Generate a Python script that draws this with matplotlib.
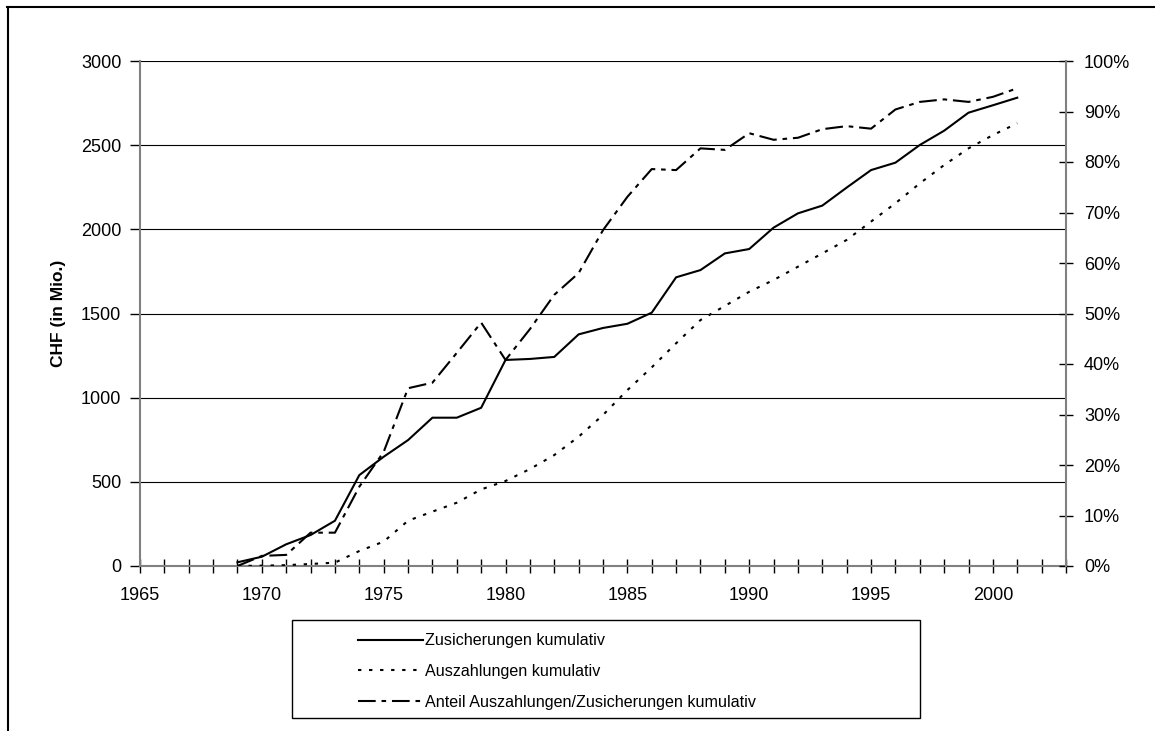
import matplotlib
matplotlib.use("Agg")
import matplotlib.pyplot as plt
from matplotlib.lines import Line2D
from matplotlib.patches import Rectangle
from matplotlib.ticker import MultipleLocator, FixedLocator

plt.rcParams['font.family'] = ['Liberation Sans', 'DejaVu Sans']

years = list(range(1969, 2002))
zusicherungen = [22, 55, 129, 184, 269, 540, 649, 748, 881, 881, 940, 1224, 1230, 1242,
                 1376, 1414, 1439, 1505, 1715, 1758, 1857, 1883, 2010, 2095, 2141, 2248,
                 2352, 2396, 2501, 2586, 2693, 2737, 2782]
auszahlungen = [0, 2, 5, 12, 20, 89, 145, 269, 323, 376, 455, 505, 576, 659, 768, 897,
                1045, 1180, 1323, 1461, 1545, 1629, 1699, 1778, 1857, 1937, 2046, 2155,
                2273, 2382, 2481, 2560, 2630]
anteil = [0, 2.0, 2.2, 6.6, 6.6, 15.7, 22.6, 35.2, 36.3, 42.2, 48.2, 40.8, 46.9, 53.7,
          58.0, 66.5, 73.1, 78.6, 78.4, 82.7, 82.4, 85.7, 84.4, 84.8, 86.5, 87.1, 86.6,
          90.4, 91.9, 92.4, 91.9, 92.9, 94.6]

left_ticks = [0, 500, 1000, 1500, 2000, 2500, 3000]
right_ticks = [0, 10, 20, 30, 40, 50, 60, 70, 80, 90, 100]
x_labels = [1965, 1970, 1975, 1980, 1985, 1990, 1995, 2000]
legend_labels = ["Zusicherungen kumulativ", "Auszahlungen kumulativ",
                 "Anteil Auszahlungen/Zusicherungen kumulativ"]

W, H = 1155, 731
fig = plt.figure(figsize=(W / 100, H / 100), dpi=100)
ax = fig.add_axes([140 / W, (H - 566) / H, (1066 - 140) / W, (566 - 61) / H])
ax2 = ax.twinx()

FS = 13
spine_col = '#808080'

ax.set_xlim(1965, 2003)
ax.set_ylim(0, 3000)
ax2.set_ylim(0, 100)

for y in left_ticks[1:]:
    ax.axhline(y, color='black', lw=0.8, zorder=1)

lw = 1.5
ax.plot(years, zusicherungen, color='black', lw=lw, solid_joinstyle='miter', zorder=3)
ax.plot(years, auszahlungen, color='black', lw=lw, dashes=(1.6, 3.7), zorder=3)
ax2.plot(years, anteil, color='black', lw=lw, dashes=(8.5, 2.8, 2.2, 2.8), zorder=3)

ax.set_yticks(left_ticks)
ax.set_yticklabels([str(v) for v in left_ticks], fontsize=FS)
ax.tick_params(axis='y', direction='out', length=7, width=1, color='black', pad=6.5)

ax2.set_yticks(right_ticks)
ax2.set_yticklabels([f"{v}%" for v in right_ticks], fontsize=FS)
ax2.tick_params(axis='y', direction='inout', length=10, width=1, color='black', pad=8)

ax.xaxis.set_major_locator(FixedLocator(x_labels))
ax.set_xticklabels([str(v) for v in x_labels], fontsize=FS)
ax.xaxis.set_minor_locator(MultipleLocator(1))
ax.tick_params(axis='x', which='both', direction='inout', length=10, width=1, color='black', pad=10)

for a in (ax, ax2):
    a.spines['top'].set_visible(False)
    for s in ('left', 'right', 'bottom'):
        a.spines[s].set_color(spine_col)
        a.spines[s].set_linewidth(1.5)
ax2.spines['left'].set_visible(False)
ax2.spines['bottom'].set_visible(False)
ax.spines['right'].set_visible(False)

ax.set_ylabel("CHF (in Mio.)", fontsize=12.5, fontweight='bold', labelpad=0)
ax.yaxis.set_label_coords((66 - 140) / (1066 - 140), (566 - 313) / 505)

# legend box
fig.add_artist(Rectangle((292 / W, (H - 718) / H), (920 - 292) / W, (718 - 620) / H,
                         transform=fig.transFigure, fill=False, edgecolor='black', lw=1))
handles = [Line2D([], [], color='black', lw=lw),
           Line2D([], [], color='black', lw=lw, dashes=(1.6, 3.7)),
           Line2D([], [], color='black', lw=lw, dashes=(8.5, 2.8, 2.2, 2.8))]
fig.legend(handles, legend_labels, loc='upper left',
           bbox_to_anchor=(352 / W, (H - 627) / H), frameon=False, fontsize=11.6,
           handlelength=4.0, handletextpad=0.1, labelspacing=0.97, borderaxespad=0)

# outer frame
fig.add_artist(Line2D([7.5 / W, 7.5 / W], [0, (H - 7) / H], transform=fig.transFigure,
                      color='black', lw=1.5))
fig.add_artist(Line2D([7 / W, 1], [(H - 7) / H, (H - 7) / H], transform=fig.transFigure,
                      color='black', lw=1.5))

fig.savefig("out.png", dpi=100)
